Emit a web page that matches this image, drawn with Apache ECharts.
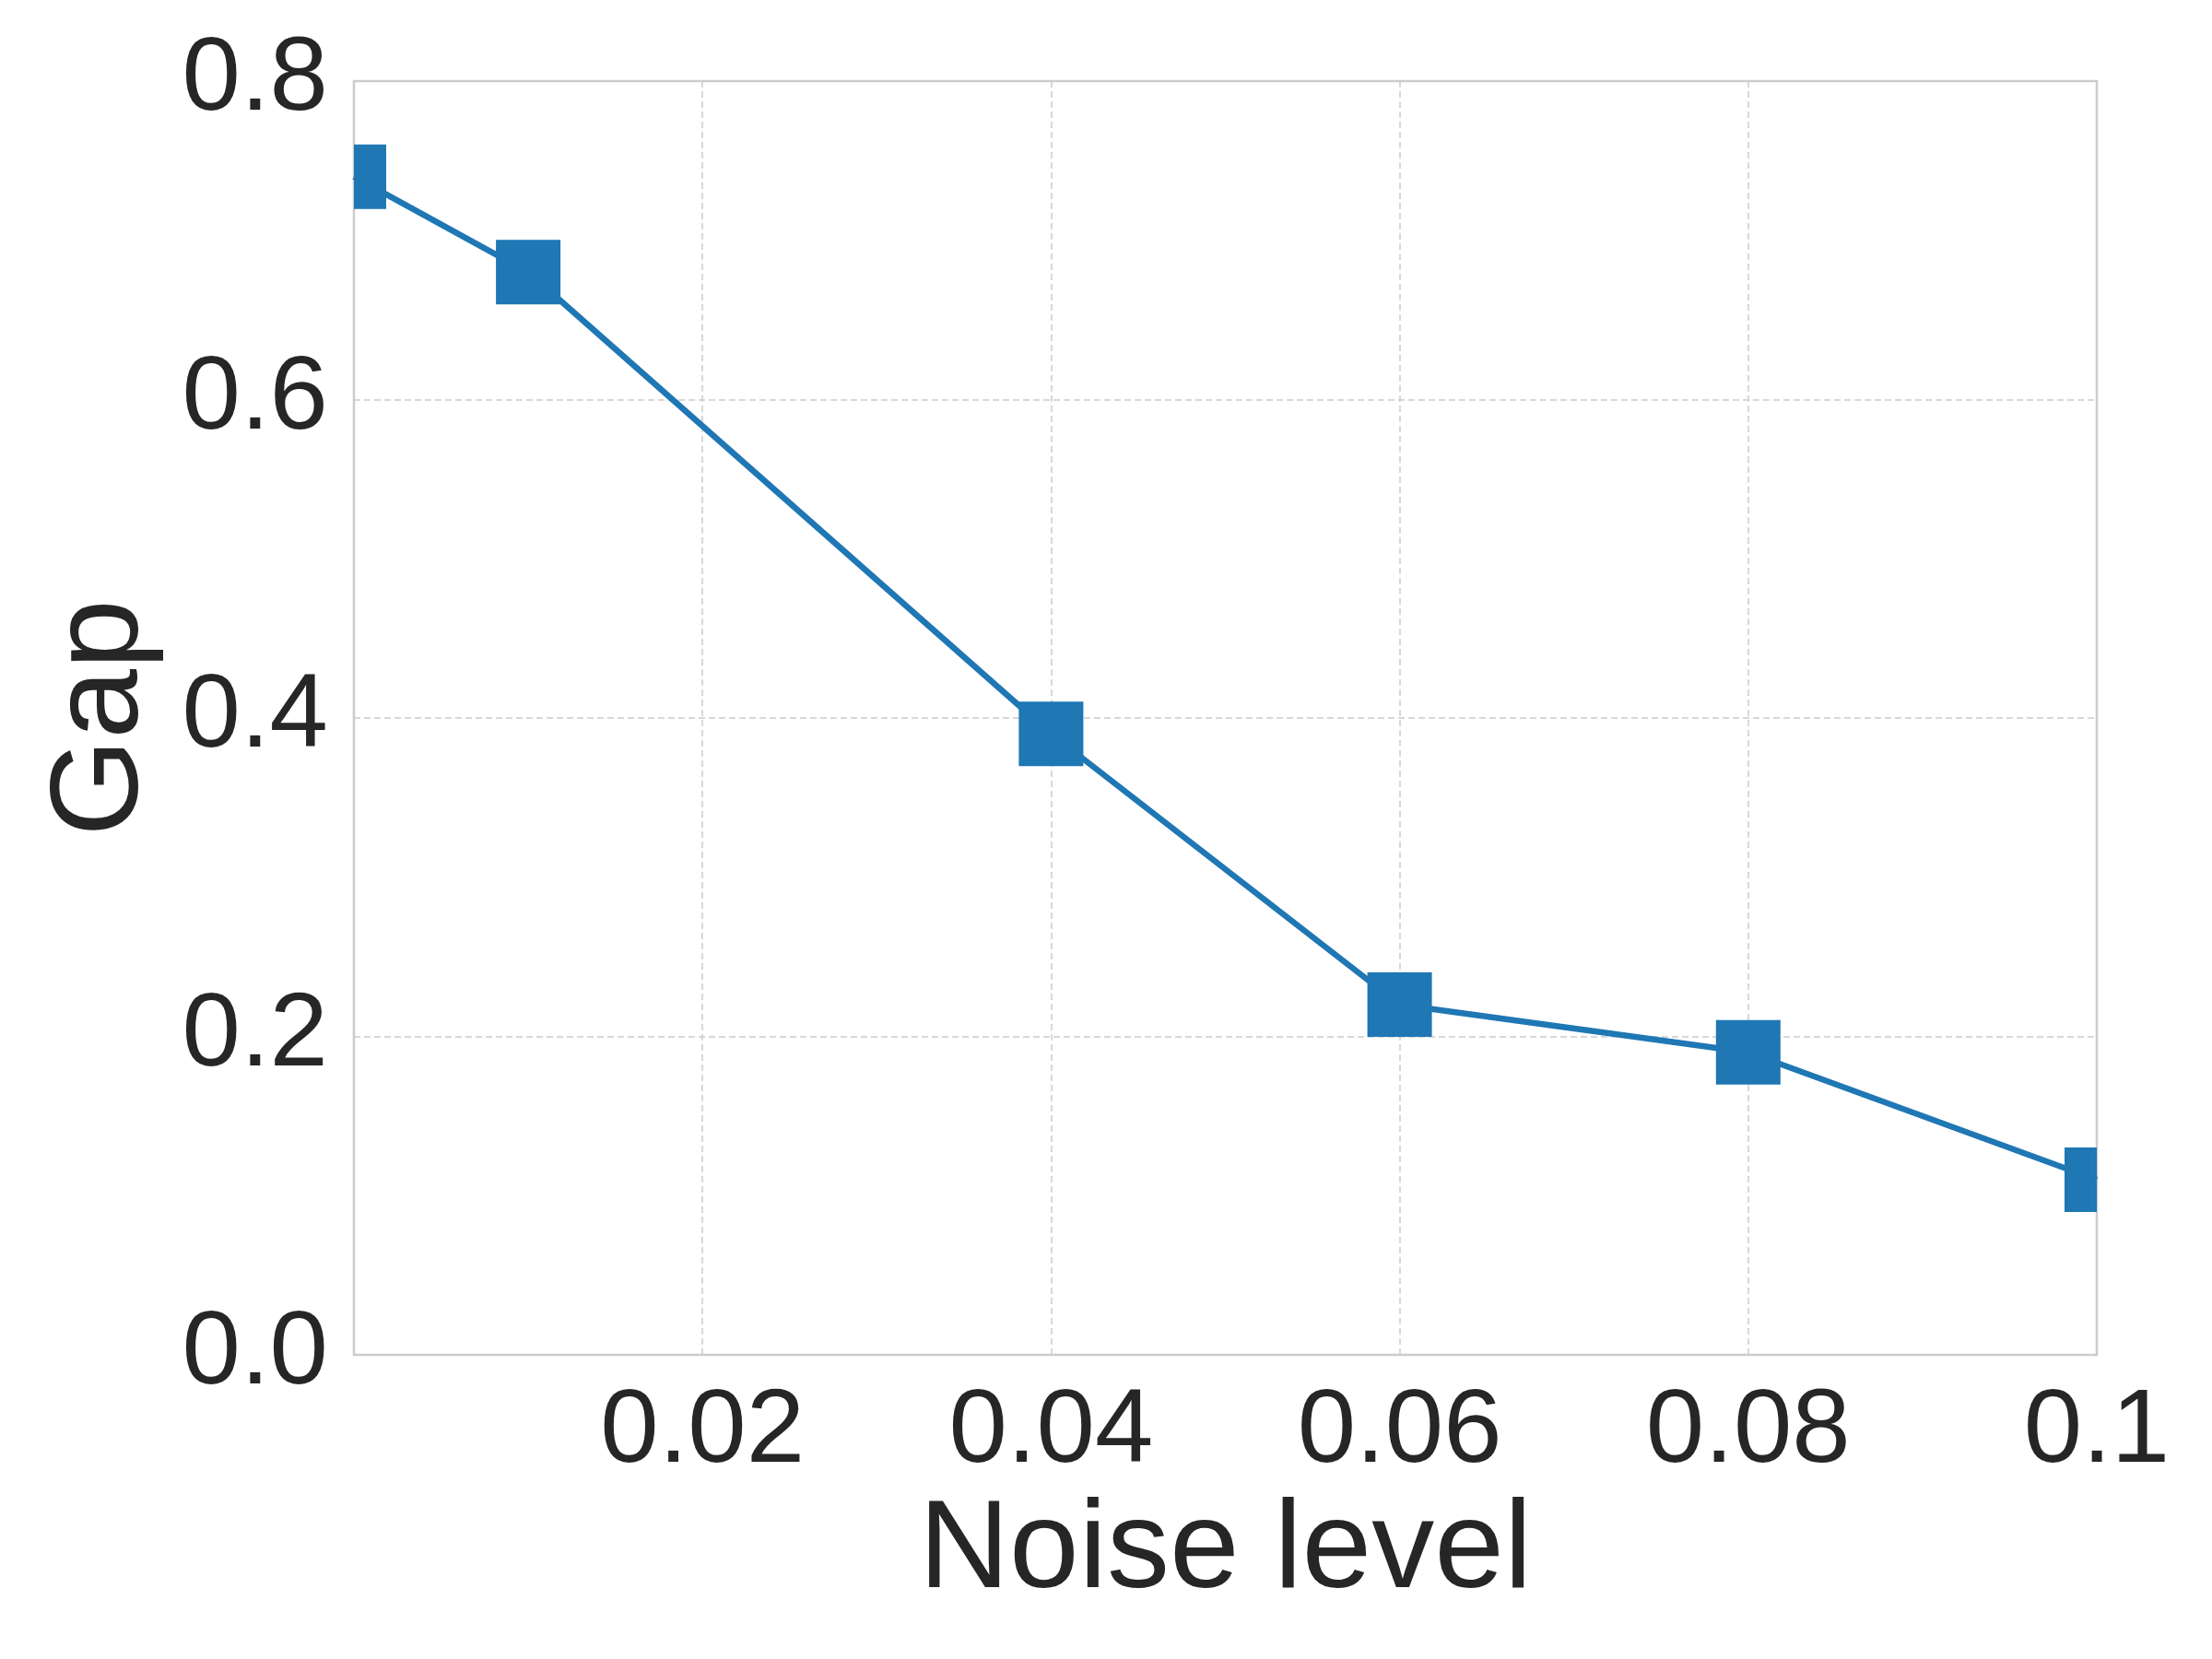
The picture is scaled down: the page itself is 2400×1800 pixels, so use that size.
<!DOCTYPE html>
<html>
<head>
<meta charset="utf-8">
<script src="https://cdn.jsdelivr.net/npm/echarts@6/dist/echarts.min.js"></script>
<style>
html,body{margin:0;padding:0;background:#fff;}
#chart{width:2400px;height:1800px;}
</style>
</head>
<body>
<div id="chart"></div>
<script>
const noiseLevels = [0.0, 0.01, 0.04, 0.06, 0.08, 0.1];
const gapValues = [0.74, 0.68, 0.39, 0.22, 0.19, 0.11];
const xTicks = [0.02, 0.04, 0.06, 0.08, 0.1];
const yTicks = [0.0, 0.2, 0.4, 0.6, 0.8];
const xTitle = 'Noise level';
const yTitle = 'Gap';

const pts = noiseLevels.map((x, i) => [x, gapValues[i]]);
const textColor = '#262626';
const font = 'Liberation Sans, Arial, sans-serif';
const markerSize = 70;

const chart = echarts.init(document.getElementById('chart'), null, {renderer: 'canvas'});
chart.setOption({
  backgroundColor: '#ffffff',
  animation: false,
  grid: {
    left: 384, right: 125, top: 88, bottom: 330,
    show: true, borderColor: '#cccccc', borderWidth: 2.5, backgroundColor: '#ffffff',
    containLabel: false
  },
  xAxis: {
    type: 'value', min: 0, max: 0.1, interval: 0.02,
    name: xTitle, nameLocation: 'middle', nameGap: 140,
    nameTextStyle: {fontSize: 136, color: textColor, fontFamily: font},
    axisLine: {show: false}, axisTick: {show: false},
    axisLabel: {
      showMinLabel: false, fontSize: 114, color: textColor, fontFamily: font, margin: 28,
      formatter: v => (xTicks.some(t => Math.abs(t - v) < 1e-9) ? String(+v.toFixed(2)) : '')
    },
    splitLine: {show: true, lineStyle: {color: '#cccccc', width: 1.5, type: [7, 4]}}
  },
  yAxis: {
    type: 'value', min: 0, max: 0.8, interval: 0.2,
    name: yTitle, nameLocation: 'middle', nameGap: 205, nameRotate: 90,
    nameTextStyle: {fontSize: 136, color: textColor, fontFamily: font},
    axisLine: {show: false}, axisTick: {show: false},
    axisLabel: {
      fontSize: 114, color: textColor, fontFamily: font, margin: 28,
      formatter: v => (yTicks.some(t => Math.abs(t - v) < 1e-9) ? v.toFixed(1) : '')
    },
    splitLine: {show: true, lineStyle: {color: '#cccccc', width: 1.5, type: [7, 4]}}
  },
  series: [
    {
      type: 'line', data: pts, symbol: 'none', clip: true,
      lineStyle: {color: '#1f77b4', width: 6.5}, z: 2
    },
    {
      type: 'custom', data: pts, z: 3, clip: true,
      renderItem: function (params, api) {
        const c = api.coord([api.value(0), api.value(1)]);
        const rect = echarts.graphic.clipRectByRect(
          {x: c[0] - markerSize / 2, y: c[1] - markerSize / 2, width: markerSize, height: markerSize},
          {x: params.coordSys.x, y: params.coordSys.y, width: params.coordSys.width, height: params.coordSys.height}
        );
        if (!rect) return null;
        return {type: 'rect', shape: rect, style: {fill: '#1f77b4'}};
      }
    }
  ]
});
</script>
</body>
</html>
